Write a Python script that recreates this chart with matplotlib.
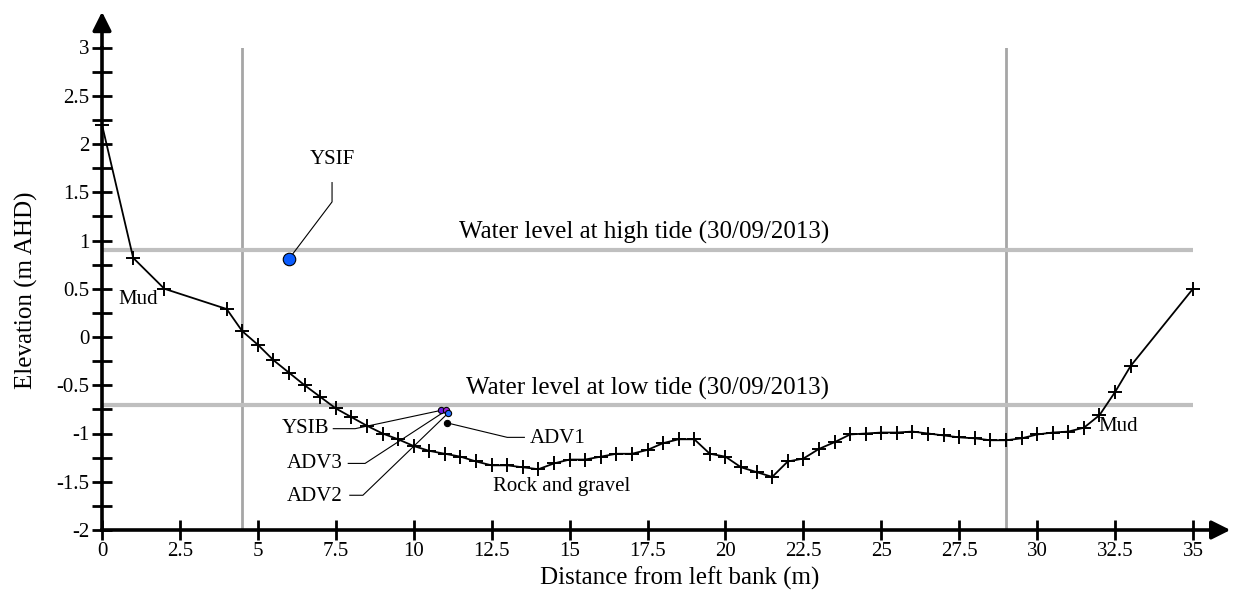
import matplotlib
matplotlib.use("Agg")
import matplotlib.pyplot as plt
import numpy as np

plt.rcParams["font.family"] = "Liberation Serif"

# cross-section survey (distance from left bank, elevation m AHD)
dist = [0, 1, 2, 4, 4.5, 5, 5.5, 6, 6.5, 7, 7.5, 8, 8.5, 9, 9.5, 10, 10.5,
        11, 11.5, 12, 12.5, 13, 13.5, 14, 14.5, 15, 15.5, 16, 16.5, 17, 17.5,
        18, 18.5, 19, 19.5, 20, 20.5, 21, 21.5, 22, 22.5, 23, 23.5, 24, 24.5,
        25, 25.5, 26, 26.5, 27, 27.5, 28, 28.5, 29, 29.5, 30, 30.5, 31, 31.5,
        32, 32.5, 33, 35]
elev = [2.2, 0.82, 0.5, 0.29, 0.06, -0.08, -0.24, -0.37, -0.5, -0.62, -0.74,
        -0.83, -0.92, -1.0, -1.06, -1.13, -1.18, -1.21, -1.24, -1.29, -1.33,
        -1.33, -1.35, -1.37, -1.31, -1.27, -1.27, -1.24, -1.21, -1.21, -1.17,
        -1.1, -1.06, -1.06, -1.21, -1.24, -1.35, -1.40, -1.45, -1.29, -1.26,
        -1.16, -1.09, -1.01, -1.0, -0.99, -0.99, -0.98, -1.0, -1.02, -1.04,
        -1.05, -1.07, -1.07, -1.05, -1.01, -0.99, -0.98, -0.94, -0.81, -0.57,
        -0.30, 0.50]

high_tide = 0.9
low_tide = -0.7
vlines_x = [4.5, 29]

# instruments
inst_names = ["YSIF", "YSIB", "ADV3", "ADV2", "ADV1"]
inst_x = [6.0, 10.88, 11.05, 11.1, 11.07]
inst_y = [0.81, -0.76, -0.76, -0.79, -0.89]
inst_col = ["#0a5cff", "#6a1fe0", "#9b1fd6", "#1f6bff", "black"]
inst_size = [9, 4.5, 4.5, 4.5, 4.5]

# label anchor and leader line bends
lab_xy = [(7.38, 1.84), (7.3, -0.95), (7.72, -1.31), (7.72, -1.65), (13.72, -1.05)]
lab_ha = ["center", "right", "right", "right", "left"]
leader_bend = [[(7.38, 1.6), (7.38, 1.40)],
               [(7.42, -0.95), (8.12, -0.95)],
               [(7.9, -1.31), (8.44, -1.31)],
               [(7.95, -1.64), (8.37, -1.64)],
               [(13.55, -1.04), (13.0, -1.04)]]

fig = plt.figure(figsize=(12.34, 6.04), dpi=100)
ax = fig.add_axes([102 / 1234, 74 / 604, 1091 / 1234, 482.5 / 604])

ax.set_xlim(0, 35)
ax.set_ylim(-2, 3)

# reference lines
for xv in vlines_x:
    ax.plot([xv, xv], [-2, 3], color="#a6a6a6", lw=2, zorder=1)
ax.plot([0, 35], [high_tide, high_tide], color="#bfbfbf", lw=3, zorder=1)
ax.plot([0, 35], [low_tide, low_tide], color="#bfbfbf", lw=3, zorder=1)

# bed profile
ax.plot(dist, elev, color="black", lw=1.3, marker="+", markersize=10,
        markeredgewidth=1.4, zorder=3, clip_on=False)

# leader lines, points, labels
for i in range(len(inst_names)):
    pts = leader_bend[i] + [(inst_x[i], inst_y[i])]
    ax.plot([p[0] for p in pts], [p[1] for p in pts], color="black",
            lw=0.8, zorder=4)
for i in range(len(inst_names)):
    ax.plot(inst_x[i], inst_y[i], "o", color=inst_col[i], markersize=inst_size[i],
            markeredgecolor="black", markeredgewidth=0.8, zorder=5)
    ax.text(lab_xy[i][0], lab_xy[i][1], inst_names[i], fontsize=15,
            ha=lab_ha[i], va="center", zorder=6)

# annotations
ax.text(17.4, 1.08, "Water level at high tide (30/09/2013)", fontsize=18,
        ha="center", va="center")
ax.text(17.5, -0.53, "Water level at low tide (30/09/2013)", fontsize=18,
        ha="center", va="center")
ax.text(1.15, 0.39, "Mud", fontsize=15, ha="center", va="center")
ax.text(31.95, -0.93, "Mud", fontsize=15, ha="left", va="center")
ax.text(14.73, -1.55, "Rock and gravel", fontsize=15, ha="center", va="center")

# axes styling
for s in ["top", "right"]:
    ax.spines[s].set_visible(False)
for s in ["left", "bottom"]:
    ax.spines[s].set_linewidth(2.6)
    ax.spines[s].set_zorder(2)

xt = np.arange(0, 35.1, 2.5)
ax.set_xticks(xt)
ax.set_xticklabels(["{:g}".format(v) for v in xt])
yt = np.arange(-2, 3.1, 0.5)
ax.set_yticks(yt)
ax.set_yticklabels(["{:g}".format(v) for v in yt])
ax.set_yticks(np.arange(-2, 3.1, 0.25), minor=True)
ax.tick_params(axis="both", which="major", direction="inout", length=14,
               width=2, labelsize=15, pad=2)
ax.tick_params(axis="y", which="minor", direction="inout", length=14, width=2)

# axis titles placed as in the original layout
fig.text(680 / 1234, 1 - 578 / 604, "Distance from left bank (m)", fontsize=18,
         ha="center", va="center")
fig.text(26 / 1234, 1 - 290 / 604, "Elevation (m AHD)", fontsize=18,
         ha="center", va="center", rotation=90)

# axis arrows
ax.annotate("", xy=(0, 3.37), xytext=(0, 2.99), xycoords="data",
            arrowprops=dict(arrowstyle="-|>", lw=2.6, color="black",
                            mutation_scale=28, shrinkA=0, shrinkB=0),
            annotation_clip=False)
ax.annotate("", xy=(36.2, -2), xytext=(34.99, -2), xycoords="data",
            arrowprops=dict(arrowstyle="-|>", lw=2.6, color="black",
                            mutation_scale=28, shrinkA=0, shrinkB=0),
            annotation_clip=False)

fig.savefig("out.png", dpi=100)
